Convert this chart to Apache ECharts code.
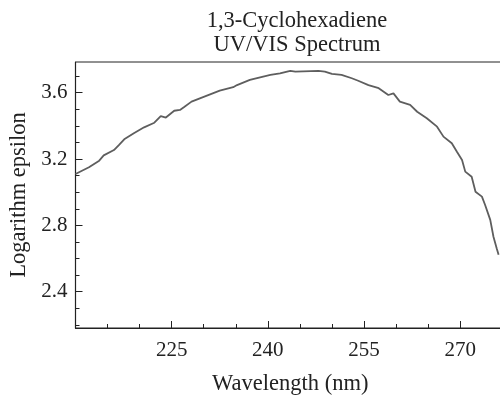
<!DOCTYPE html>
<html>
<head>
<meta charset="utf-8">
<script src="https://cdn.jsdelivr.net/npm/echarts@6/dist/echarts.min.js"></script>
<style>
  html, body {margin: 0; padding: 0; background: #fff;}
  #chart {width: 500px; height: 395px;}
</style>
</head>
<body>
<div id="chart"></div>
<script>
// spectrum
const wavelength = [210.0, 212.1, 213.7, 214.4, 216.0, 216.8, 217.6, 219.1, 220.7, 222.3,
  223.3, 224.1, 225.4, 226.3, 226.9, 228.1, 229.4, 232.5, 234.6, 235.2,
  237.2, 238.8, 240.4, 241.9, 243.5, 244.3, 247.9, 248.9, 250.0, 251.5,
  253.1, 254.1, 255.7, 257.3, 258.8, 259.6, 260.6, 262.2, 263.3, 264.8,
  266.4, 267.4, 268.7, 269.5, 270.3, 270.8, 271.8, 272.4, 273.4, 273.9,
  274.7, 275.2, 275.7, 276.0];
const logEpsilon = [3.110, 3.150, 3.190, 3.222, 3.254, 3.285, 3.319, 3.355, 3.391, 3.419,
  3.459, 3.450, 3.491, 3.496, 3.512, 3.546, 3.566, 3.612, 3.633, 3.646,
  3.677, 3.693, 3.707, 3.717, 3.731, 3.727, 3.731, 3.727, 3.713, 3.707,
  3.687, 3.672, 3.646, 3.627, 3.586, 3.596, 3.546, 3.526, 3.485, 3.446,
  3.395, 3.335, 3.295, 3.244, 3.194, 3.124, 3.093, 3.003, 2.973, 2.923,
  2.833, 2.731, 2.662, 2.622];

const xMajor = [225, 240, 255, 270];
const xMinor = [215, 220, 230, 235, 245, 250, 260, 265];
const yMajor = [2.4, 2.8, 3.2, 3.6];
const yMinor = [2.2, 2.3, 2.5, 2.6, 2.7, 2.9, 3.0, 3.1, 3.3, 3.4, 3.5, 3.7];

const font = 'Liberation Serif';
const ink = '#222';
const xRange = {min: 210, max: 277};
const yRange = {min: 2.181, max: 3.785};

const myChart = echarts.init(document.getElementById('chart'));
myChart.setOption({
  animation: false,
  title: {
    text: '1,3-Cyclohexadiene\nUV/VIS Spectrum',
    left: 292,
    top: 4,
    textAlign: 'center',
    textStyle: {fontFamily: font, fontWeight: 'normal', fontSize: 22.5, lineHeight: 24, color: ink}
  },
  grid: {
    left: 75.5, right: -5, top: 62, bottom: 67,
    containLabel: false, outerBoundsMode: 'none',
    show: true, borderColor: ink, borderWidth: 1
  },
  xAxis: [{
    type: 'value', position: 'bottom', ...xRange,
    name: 'Wavelength (nm)', nameLocation: 'middle', nameGap: 45,
    nameTextStyle: {fontFamily: font, fontSize: 22.5, color: ink},
    axisLine: {lineStyle: {color: ink, width: 1.2}},
    axisTick: {inside: true, length: 7, customValues: xMajor, lineStyle: {color: ink}},
    axisLabel: {customValues: xMajor, margin: 12, fontFamily: font, fontSize: 21, color: ink},
    splitLine: {show: false}
  }, {
    type: 'value', position: 'bottom', ...xRange,
    axisLine: {show: false},
    axisTick: {inside: true, length: 4, customValues: xMinor, lineStyle: {color: ink}},
    axisLabel: {show: false},
    splitLine: {show: false}
  }],
  yAxis: [{
    type: 'value', position: 'left', ...yRange,
    name: 'Logarithm epsilon', nameLocation: 'middle', nameGap: 45,
    nameTextStyle: {fontFamily: font, fontSize: 22.5, color: ink},
    axisLine: {show: true, lineStyle: {color: ink, width: 1.2}},
    axisTick: {show: true, inside: true, length: 7, customValues: yMajor, lineStyle: {color: ink}},
    axisLabel: {customValues: yMajor, margin: 8, fontFamily: font, fontSize: 21, color: ink,
      formatter: v => v.toFixed(1)},
    splitLine: {show: false}
  }, {
    type: 'value', position: 'left', ...yRange,
    axisLine: {show: false},
    axisTick: {show: true, inside: true, length: 4, customValues: yMinor, lineStyle: {color: ink}},
    axisLabel: {show: false},
    splitLine: {show: false}
  }],
  series: [{
    type: 'line',
    data: wavelength.map((w, i) => [w, logEpsilon[i]]),
    showSymbol: false,
    lineStyle: {color: '#5e5e5e', width: 1.8},
    clip: true
  }]
});
</script>
</body>
</html>
